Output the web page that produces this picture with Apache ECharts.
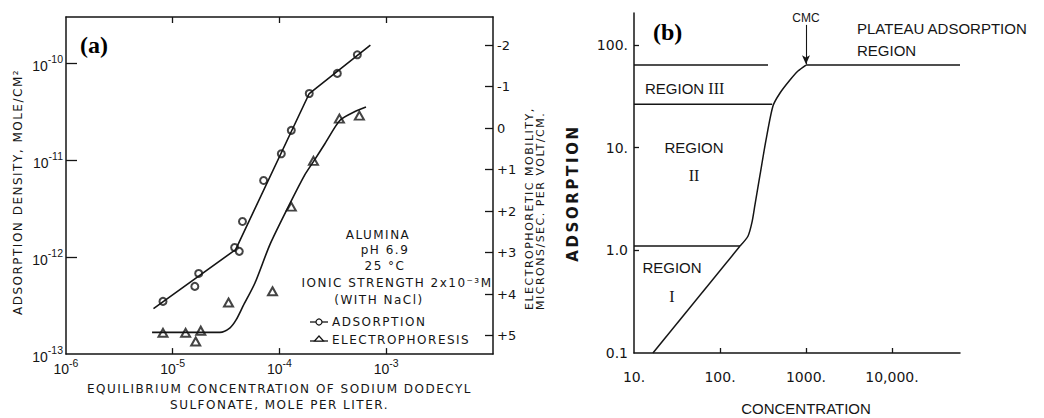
<!DOCTYPE html>
<html><head><meta charset="utf-8">
<script src="https://cdn.jsdelivr.net/npm/echarts@6/dist/echarts.min.js"></script>
<style>
html,body{margin:0;padding:0;background:#fff}
#c{width:1044px;height:418px}
text[style*="DejaVu"][style*="12px"], text[style*="DejaVu"][style*="11px"]{letter-spacing:1.5px}
text[style*="DejaVu"][style*="15px"]{letter-spacing:2.6px}
</style></head><body><div id="c"></div>
<script>
// ---------- Panel (a) data ----------
const adsX = [8.1e-6, 1.61e-5, 1.75e-5, 3.8e-5, 4.2e-5, 4.5e-5, 7.1e-5, 1.04e-4, 1.29e-4, 1.9e-4, 3.48e-4, 5.36e-4];
const adsY = [3.5e-13, 5.0e-13, 6.8e-13, 1.26e-12, 1.15e-12, 2.34e-12, 6.2e-12, 1.17e-11, 2.04e-11, 4.9e-11, 7.9e-11, 1.23e-10];
const adsFitX = [6.6e-6, 3.88e-5, 1.9e-4, 7.1e-4];
const adsFitY = [2.95e-13, 1.2e-12, 4.9e-11, 1.55e-10];
const epX = [8.1e-6, 1.32e-5, 1.64e-5, 1.83e-5, 3.33e-5, 8.6e-5, 1.29e-4, 2.08e-4, 3.64e-4, 5.6e-4];
const epM = [4.93, 4.93, 5.14, 4.88, 4.2, 3.93, 1.89, 0.79, -0.23, -0.30];
const epFitX = [6.4e-6, 2.77e-5, 3.44e-5, 3.92e-5, 4.55e-5, 5.89e-5, 8.15e-5, 1.25e-4, 1.73e-4, 2.10e-4, 2.67e-4, 3.69e-4, 5.09e-4, 6.46e-4];
const epFitM = [4.92, 4.92, 4.81, 4.62, 4.29, 3.73, 2.80, 1.82, 1.12, 0.79, 0.37, -0.19, -0.40, -0.51];
const aXTicks = [1e-6, 1e-5, 1e-4, 1e-3];
const aYTicks = [1e-13, 1e-12, 1e-11, 1e-10];
const mobTicks = [-2, -1, 0, 1, 2, 3, 4, 5];
const mobLabels = ['-2', '-1', '0', '+1', '+2', '+3', '+4', '+5'];

// ---------- Panel (b) data ----------
const regILineX = [16.6, 171];  const regILineY = [0.1, 1.10];
const bCurveX = [171, 212, 236, 255, 292, 343, 413, 499, 651, 807, 1000];
const bCurveY = [1.10, 1.38, 1.89, 2.77, 5.42, 11.9, 25.5, 34.1, 45.6, 55.8, 63.8];
const regIIITopX = [10, 362];   const regIIITopY = [63.8, 63.8];
const regIIIBotX = [10, 405];   const regIIIBotY = [26.5, 26.5];
const regITopX = [10, 171];     const regITopY = [1.10, 1.10];
const plateauX = [1000, 61800]; const plateauY = [63.8, 63.8];
const cmcX = 1000; const cmcFrom = 157; const cmcTo = 65;
const bXTicks = [10, 100, 1000, 10000];
const bXLabels = ['10.', '100.', '1000.', '10,000.'];
const bYTicks = [0.1, 1, 10, 100];
const bYLabels = ['0.1', '1.0', '10.', '100.'];

const zip = (a, b) => a.map((v, i) => [v, b[i]]);
const INK = '#151515';
const FA = 'DejaVu Sans';
const FB = 'Liberation Sans';

function expLabel(v) {
  const e = Math.log10(v), r = Math.round(e);
  if (Math.abs(e - r) > 1e-6) return '';
  return '{b|10}{s|' + r + '}';
}
function logLookup(ticks, labels) {
  return v => {
    for (let i = 0; i < ticks.length; i++) if (Math.abs(Math.log10(v) - Math.log10(ticks[i])) < 1e-6) return labels[i];
    return '';
  };
}
const supRich = {
  b: { fontSize: 14, fontFamily: FB, color: INK, lineHeight: 19, verticalAlign: 'bottom' },
  s: { fontSize: 10.5, fontFamily: FB, color: INK, lineHeight: 11, verticalAlign: 'top' }
};
const axLine = { show: true, onZero: false, lineStyle: { color: INK, width: 1.5 } };

const chart = echarts.init(document.getElementById('c'), null, { renderer: 'svg' });
chart.setOption({
  animation: false,
  backgroundColor: '#fff',
  grid: [
    { left: 66, top: 17, width: 427, height: 348 },
    { left: 634, top: 13, width: 326, height: 340 }
  ],
  xAxis: [
    { type: 'log', gridIndex: 0, min: 1e-6, max: 1e-2, axisLine: axLine,
      axisTick: { inside: true, length: 6, customValues: [1e-5, 1e-4, 1e-3], lineStyle: { color: INK, width: 1.3 } },
      axisLabel: { customValues: aXTicks, formatter: expLabel, rich: supRich, margin: 3, showMinLabel: true },
      splitLine: { show: false },
      name: 'EQUILIBRIUM CONCENTRATION OF SODIUM DODECYL\nSULFONATE, MOLE PER LITER.',
      nameLocation: 'middle', nameGap: 22,
      nameTextStyle: { fontFamily: FA, fontSize: 12, color: INK, lineHeight: 16 } },
    { type: 'log', gridIndex: 0, position: 'top', min: 1e-6, max: 1e-2, axisLine: axLine,
      axisTick: { inside: true, length: 6, customValues: [1e-5, 1e-4, 1e-3], lineStyle: { color: INK, width: 1.3 } },
      axisLabel: { show: false }, splitLine: { show: false } },
    { type: 'log', gridIndex: 1, min: 10, max: 61800, axisLine: axLine,
      axisTick: { inside: true, length: 5, customValues: [100, 1000, 10000], lineStyle: { color: INK, width: 1.3 } },
      axisLabel: { customValues: bXTicks, formatter: logLookup(bXTicks, bXLabels), fontFamily: FA, fontSize: 14, color: INK, margin: 17, showMinLabel: true },
      splitLine: { show: false } }
  ],
  yAxis: [
    { type: 'log', gridIndex: 0, min: 1e-13, max: 3.02e-10, axisLine: axLine,
      axisTick: { inside: true, length: 11, customValues: [1e-12, 1e-11, 1e-10], lineStyle: { color: INK, width: 1.3 } },
      axisLabel: { customValues: aYTicks, formatter: expLabel, rich: supRich, margin: 3, showMinLabel: true },
      splitLine: { show: false } },
    { type: 'value', gridIndex: 0, position: 'right', inverse: true, min: -2.677, max: 5.443, axisLine: axLine,
      axisTick: { inside: true, length: 8, customValues: mobTicks, lineStyle: { color: INK, width: 1.3 } },
      axisLabel: { customValues: mobTicks, formatter: v => mobLabels[mobTicks.indexOf(Math.round(v))] || '', fontFamily: FA, fontSize: 13, color: INK, margin: 4 },
      splitLine: { show: false } },
    { type: 'log', gridIndex: 1, min: 0.1, max: 205, axisLine: axLine,
      axisTick: { inside: true, length: 5, customValues: [1, 10, 100], lineStyle: { color: INK, width: 1.3 } },
      axisLabel: { customValues: bYTicks, formatter: logLookup(bYTicks, bYLabels), fontFamily: FA, fontSize: 14, color: INK, margin: 6, showMinLabel: true },
      splitLine: { show: false } }
  ],
  series: [
    { type: 'line', name: 'adsFit', xAxisIndex: 0, yAxisIndex: 0, data: zip(adsFitX, adsFitY), symbol: 'none', silent: true,
      lineStyle: { color: INK, width: 1.6 } },
    { type: 'scatter', name: 'ADSORPTION', xAxisIndex: 0, yAxisIndex: 0, data: zip(adsX, adsY), symbol: 'emptyCircle', symbolSize: 7,
      itemStyle: { color: INK, borderWidth: 1.2 } },
    { type: 'line', name: 'epFit', xAxisIndex: 0, yAxisIndex: 1, data: zip(epFitX, epFitM), symbol: 'none', silent: true,
      smooth: 0.25, lineStyle: { color: INK, width: 1.6 } },
    { type: 'scatter', name: 'ELECTROPHORESIS', xAxisIndex: 0, yAxisIndex: 1, data: zip(epX, epM), symbol: 'emptyTriangle', symbolSize: [9, 8],
      itemStyle: { color: INK, borderWidth: 1.2 } },
    { type: 'line', name: 'regionI', xAxisIndex: 2, yAxisIndex: 2, data: zip(regILineX, regILineY), symbol: 'none', silent: true,
      lineStyle: { color: INK, width: 1.5 } },
    { type: 'line', name: 'curve', xAxisIndex: 2, yAxisIndex: 2, data: zip(bCurveX, bCurveY), symbol: 'none', silent: true,
      smooth: 0.25, lineStyle: { color: INK, width: 1.5 } },
    { type: 'line', name: 'regIIITop', xAxisIndex: 2, yAxisIndex: 2, data: zip(regIIITopX, regIIITopY), symbol: 'none', silent: true,
      lineStyle: { color: INK, width: 1.5 } },
    { type: 'line', name: 'regIIIBot', xAxisIndex: 2, yAxisIndex: 2, data: zip(regIIIBotX, regIIIBotY), symbol: 'none', silent: true,
      lineStyle: { color: INK, width: 1.5 } },
    { type: 'line', name: 'regITop', xAxisIndex: 2, yAxisIndex: 2, data: zip(regITopX, regITopY), symbol: 'none', silent: true,
      lineStyle: { color: INK, width: 1.5 } },
    { type: 'line', name: 'plateau', xAxisIndex: 2, yAxisIndex: 2, data: zip(plateauX, plateauY), symbol: 'none', silent: true,
      lineStyle: { color: INK, width: 1.5 },
      markLine: { silent: true, symbol: ['none', 'arrow'], symbolSize: [6, 9], precision: 4,
        lineStyle: { color: INK, width: 1.1, type: 'solid' },
        label: { show: true, position: 'start', formatter: 'CMC', fontFamily: FB, fontSize: 12, color: INK, distance: 1 },
        data: [[{ coord: [cmcX, cmcFrom] }, { coord: [cmcX, cmcTo] }]] } }
  ],
  graphic: [
    // panel (a) annotations
    { type: 'text', x: 80, y: 45, style: { text: '(a)', fontFamily: 'Liberation Serif', fontWeight: 'bold', fontSize: 24, fill: '#000', align: 'left', verticalAlign: 'middle' } },
    { type: 'text', x: 18, y: 192, rotation: Math.PI / 2, style: { text: 'ADSORPTION DENSITY, MOLE/CM²', fontFamily: FA, fontSize: 12, fill: INK, align: 'center', verticalAlign: 'middle' } },
    { type: 'text', x: 534.5, y: 310, rotation: Math.PI / 2, style: { text: 'ELECTROPHORETIC MOBILITY,\nMICRONS/SEC. PER VOLT/CM.', fontFamily: FA, fontSize: 11, lineHeight: 11, fill: INK, align: 'left', verticalAlign: 'middle' } },
    { type: 'text', x: 378, y: 235, style: { text: 'ALUMINA', fontFamily: FA, fontSize: 12, fill: INK, align: 'center', verticalAlign: 'middle' } },
    { type: 'text', x: 385, y: 250, style: { text: 'pH 6.9', fontFamily: FA, fontSize: 12, fill: INK, align: 'center', verticalAlign: 'middle' } },
    { type: 'text', x: 385, y: 266, style: { text: '25 °C', fontFamily: FA, fontSize: 12, fill: INK, align: 'center', verticalAlign: 'middle' } },
    { type: 'text', x: 397, y: 283, style: { text: 'IONIC STRENGTH 2x10⁻³M', fontFamily: FA, fontSize: 12, fill: INK, align: 'center', verticalAlign: 'middle' } },
    { type: 'text', x: 379, y: 300, style: { text: '(WITH NaCl)', fontFamily: FA, fontSize: 12, fill: INK, align: 'center', verticalAlign: 'middle' } },
    { type: 'line', shape: { x1: 310, y1: 322, x2: 328, y2: 322 }, style: { stroke: INK, lineWidth: 1.3 } },
    { type: 'circle', shape: { cx: 319, cy: 322, r: 3 }, style: { fill: '#fff', stroke: INK, lineWidth: 1.2 } },
    { type: 'text', x: 332, y: 322, style: { text: 'ADSORPTION', fontFamily: FA, fontSize: 12, fill: INK, align: 'left', verticalAlign: 'middle' } },
    { type: 'line', shape: { x1: 310, y1: 341, x2: 328, y2: 341 }, style: { stroke: INK, lineWidth: 1.3 } },
    { type: 'polygon', shape: { points: [[319, 336], [323.5, 341], [314.5, 341]] }, style: { fill: '#fff', stroke: INK, lineWidth: 1.2 } },
    { type: 'text', x: 332, y: 340, style: { text: 'ELECTROPHORESIS', fontFamily: FA, fontSize: 12, fill: INK, align: 'left', verticalAlign: 'middle' } },
    // panel (b) annotations
    { type: 'text', x: 653, y: 32, style: { text: '(b)', fontFamily: 'Liberation Serif', fontWeight: 'bold', fontSize: 24, fill: '#000', align: 'left', verticalAlign: 'middle' } },
    { type: 'text', x: 573, y: 193, rotation: Math.PI / 2, style: { text: 'ADSORPTION', fontFamily: FA, fontWeight: 'bold', fontSize: 15, fill: INK, align: 'center', verticalAlign: 'middle' } },
    { type: 'text', x: 806, y: 408, style: { text: 'CONCENTRATION', fontFamily: FB, fontSize: 15, fill: INK, align: 'center', verticalAlign: 'middle' } },
    { type: 'text', x: 857, y: 39, style: { text: 'PLATEAU ADSORPTION\nREGION', fontFamily: FB, fontSize: 15, lineHeight: 22, fill: INK, align: 'left', verticalAlign: 'middle' } },
    { type: 'text', x: 645, y: 88, style: { text: '{a|REGION }{r|III}', align: 'left', verticalAlign: 'middle',
        rich: { a: { fontFamily: FB, fontSize: 15, fill: INK }, r: { fontFamily: 'Liberation Serif', fontSize: 16, fill: INK } } } },
    { type: 'text', x: 694, y: 161, style: { text: '{a|REGION}\n{r|II}', align: 'center', verticalAlign: 'middle',
        rich: { a: { fontFamily: FB, fontSize: 15, fill: INK, lineHeight: 28 }, r: { fontFamily: 'Liberation Serif', fontSize: 16, fill: INK, lineHeight: 28 } } } },
    { type: 'text', x: 672, y: 282, style: { text: '{a|REGION}\n{r|I}', align: 'center', verticalAlign: 'middle',
        rich: { a: { fontFamily: FB, fontSize: 15, fill: INK, lineHeight: 29 }, r: { fontFamily: 'Liberation Serif', fontSize: 16, fill: INK, lineHeight: 29 } } } }
  ]
});
</script></body></html>
